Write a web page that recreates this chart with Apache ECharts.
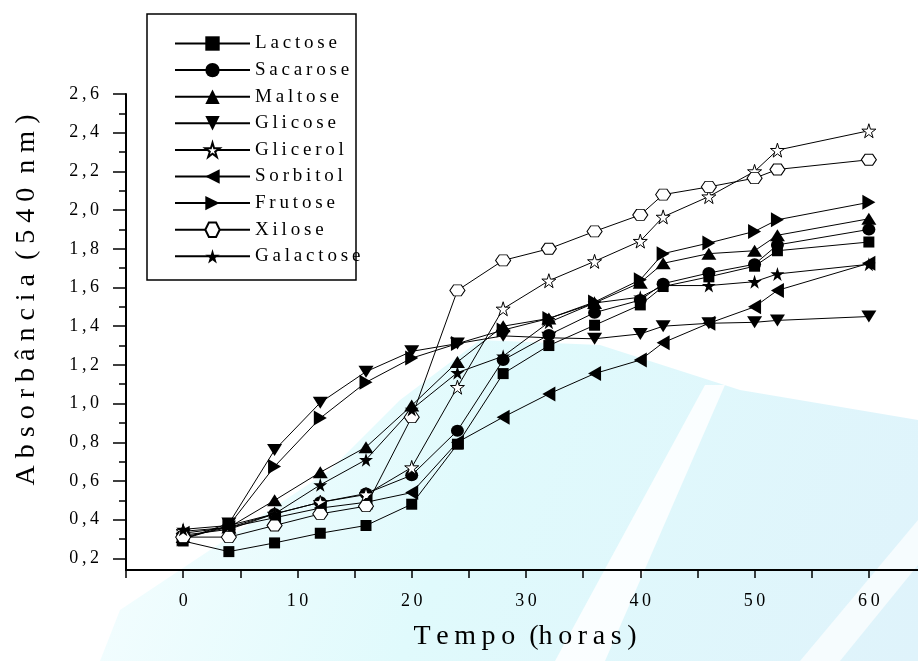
<!DOCTYPE html>
<html>
<head>
<meta charset="utf-8">
<script src="https://cdn.jsdelivr.net/npm/echarts@6/dist/echarts.min.js"></script>
<style>
  html, body { margin: 0; padding: 0; background: #fff; }
  #chart { width: 918px; height: 661px; }
</style>
</head>
<body>
<div id="chart"></div>
<script>
// tempo (horas)
const tempo = [0, 4, 8, 12, 16, 20, 24, 28, 32, 36, 40, 42, 46, 50, 52, 60];

const lactose   = [0.29, 0.235, 0.28, 0.33, 0.37, 0.48, 0.79, 1.155, 1.30, 1.405, 1.51, 1.605, 1.655, 1.71, 1.79, 1.835];
const sacarose  = [0.32, 0.35, 0.43, 0.49, 0.535, 0.63, 0.86, 1.225, 1.355, 1.47, 1.535, 1.62, 1.675, 1.72, 1.82, 1.90];
const maltose   = [0.31, 0.36, 0.50, 0.645, 0.775, 0.99, 1.215, 1.40, 1.44, 1.52, 1.625, 1.725, 1.775, 1.79, 1.87, 1.955];
const glicose   = [0.30, 0.38, 0.76, 1.005, 1.165, 1.27, 1.31, 1.35, 1.34, 1.335, 1.36, 1.40, 1.415, 1.42, 1.43, 1.45];
const glicerol  = [0.34, 0.36, 0.43, 0.49, 0.53, 0.67, 1.085, 1.49, 1.635, 1.735, 1.84, 1.965, 2.07, 2.20, 2.31, 2.41];
const sorbitol  = [0.33, 0.36, 0.41, 0.46, 0.49, 0.54, 0.80, 0.93, 1.05, 1.155, 1.225, 1.315, 1.415, 1.50, 1.585, 1.725];
const frutose   = [0.30, 0.37, 0.675, 0.925, 1.11, 1.235, 1.31, 1.38, 1.44, 1.525, 1.64, 1.775, 1.83, 1.89, 1.95, 2.04];
const xilose    = [0.31, 0.31, 0.37, 0.43, 0.47, 0.93, 1.585, 1.74, 1.80, 1.89, 1.975, 2.08, 2.12, 2.165, 2.21, 2.26];
const galactose = [0.35, 0.37, 0.43, 0.58, 0.71, 0.97, 1.16, 1.245, 1.42, 1.52, 1.55, 1.61, 1.61, 1.63, 1.67, 1.72];

// tick labels
const xLabels = [0, 10, 20, 30, 40, 50, 60];
const xTicks = [-5, 0, 5, 10, 15, 20, 25, 30, 35, 40, 45, 50, 55, 60];
const yLabels = [0.2, 0.4, 0.6, 0.8, 1.0, 1.2, 1.4, 1.6, 1.8, 2.0, 2.2, 2.4, 2.6];
const yMinor = [0.3, 0.5, 0.7, 0.9, 1.1, 1.3, 1.5, 1.7, 1.9, 2.1, 2.3, 2.5];

const STAR = 'path://M50,0 L61,35 L98,35 L68,57 L79,91 L50,70 L21,91 L32,57 L2,35 L39,35 Z';
const HEX = 'path://M0,5 L3,0 L9,0 L12,5 L9,10 L3,10 Z';
const TRI_DOWN = 'path://M0,0 L10,0 L5,9 Z';
const TRI_LEFT = 'path://M9,0 L9,10 L0,5 Z';
const TRI_RIGHT = 'path://M0,0 L0,10 L9,5 Z';

const FONT = 'Liberation Serif';
const spaced = s => s.split('').join('\u2009');

function mk(name, vals, symbol, size, hollow) {
  return {
    name: name,
    type: 'line',
    data: tempo.map((t, i) => [t, vals[i]]),
    symbol: symbol,
    symbolSize: size,
    showSymbol: true,
    lineStyle: { color: '#000', width: 1 },
    itemStyle: hollow
      ? { color: '#fff', borderColor: '#000', borderWidth: 1 }
      : { color: '#000', borderColor: '#000', borderWidth: 0 },
    emphasis: { disabled: true },
    animation: false
  };
}

const chart = echarts.init(document.getElementById('chart'));

const option = {
  backgroundColor: '#fff',
  animation: false,
  graphic: [
    // faint watermark in the background
    { type: 'polygon', z: -10, silent: true,
      shape: { points: [[100, 661], [120, 610], [330, 470], [400, 400], [480, 340], [600, 345], [740, 390], [918, 420], [918, 661]] },
      style: { fill: new echarts.graphic.LinearGradient(0, 0, 1, 1, [
        { offset: 0, color: '#f8feff' }, { offset: 0.45, color: '#e0fafc' }, { offset: 1, color: '#dff3fb' }]) } },
    { type: 'polygon', z: -9, silent: true,
      shape: { points: [[555, 661], [605, 661], [725, 385], [705, 385]] },
      style: { fill: 'rgba(255,255,255,0.85)' } },
    { type: 'polygon', z: -9, silent: true,
      shape: { points: [[800, 661], [840, 661], [918, 565], [918, 520]] },
      style: { fill: 'rgba(255,255,255,0.7)' } },
    // legend frame
    { type: 'rect', z: 5, silent: true,
      shape: { x: 147, y: 14, width: 209, height: 266 },
      style: { fill: '#fff', stroke: '#000', lineWidth: 1.5 } },
    // axis titles
    { type: 'text', z: 10, x: 27, y: 300, rotation: Math.PI / 2,
      style: { text: 'A b s o r b â n c i a  ( 5 4 0  n m )',
        font: '28px "' + FONT + '"', fill: '#000', textAlign: 'center', textVerticalAlign: 'middle' } },
    { type: 'text', z: 10, x: 525, y: 637,
      style: { text: 'T\u2009e\u2009m\u2009p\u2009o  (h\u2009o\u2009r\u2009a\u2009s\u2009)',
        font: '28px "' + FONT + '"', fill: '#000', textAlign: 'center', textVerticalAlign: 'middle' } }
  ],
  legend: {
    orient: 'vertical',
    left: 174,
    top: 34,
    padding: 0,
    itemWidth: 75,
    itemHeight: 18,
    itemGap: 7.6,
    z: 20,
    selectedMode: false,
    textStyle: { fontFamily: FONT, fontSize: 19, color: '#000' },
    formatter: name => spaced(name),
    data: ['Lactose', 'Sacarose', 'Maltose', 'Glicose', 'Glicerol', 'Sorbitol', 'Frutose', 'Xilose', 'Galactose']
  },
  grid: {
    left: 126,
    top: 94,
    width: 800,
    height: 476,
    outerBoundsMode: 'none'
  },
  xAxis: {
    type: 'value',
    min: -5,
    max: 65,
    axisLine: { onZero: false, lineStyle: { color: '#000', width: 2 } },
    axisTick: { customValues: xTicks, length: 8, lineStyle: { color: '#000', width: 1.5 } },
    axisLabel: {
      customValues: xLabels,
      margin: 22,
      fontFamily: FONT,
      fontSize: 18,
      color: '#000',
      formatter: v => spaced(String(v))
    },
    splitLine: { show: false }
  },
  yAxis: [{
    type: 'value',
    min: 0.14,
    max: 2.6,
    axisLine: { show: true, onZero: false, lineStyle: { color: '#000', width: 2 } },
    axisTick: { customValues: yLabels, length: 13, lineStyle: { color: '#000', width: 1.5 } },
    axisLabel: {
      customValues: yLabels,
      margin: 27,
      fontFamily: FONT,
      fontSize: 18,
      color: '#000',
      formatter: v => spaced(v.toFixed(1).replace('.', ','))
    },
    splitLine: { show: false }
  }, {
    type: 'value',
    min: 0.14,
    max: 2.6,
    position: 'left',
    axisLine: { show: false, onZero: false },
    axisTick: { show: true, customValues: yMinor, length: 7, lineStyle: { color: '#000', width: 1.5 } },
    axisLabel: { show: false },
    splitLine: { show: false }
  }],
  series: [
    mk('Lactose', lactose, 'rect', 11, false),
    mk('Sacarose', sacarose, 'circle', [13, 12], false),
    mk('Maltose', maltose, 'triangle', [15, 12], false),
    mk('Glicose', glicose, TRI_DOWN, [15, 12], false),
    mk('Glicerol', glicerol, STAR, 14, true),
    mk('Sorbitol', sorbitol, TRI_LEFT, [13, 15], false),
    mk('Frutose', frutose, TRI_RIGHT, [13, 15], false),
    mk('Xilose', xilose, HEX, [15, 11], true),
    mk('Galactose', galactose, STAR, 14, false)
  ]
};

chart.setOption(option);
</script>
</body>
</html>
